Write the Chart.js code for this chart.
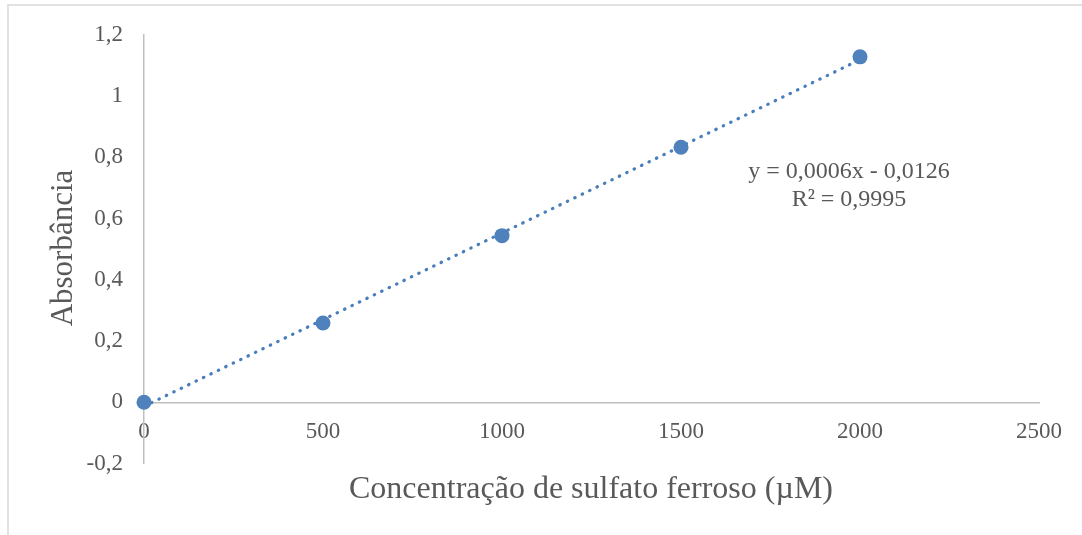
<!DOCTYPE html>
<html>
<head>
<meta charset="utf-8">
<script src="https://cdn.jsdelivr.net/npm/chart.js@4/dist/chart.umd.min.js"></script>
<style>
  html, body { margin: 0; padding: 0; background: #fff; }
  #wrap { position: relative; width: 1082px; height: 535px; }
</style>
</head>
<body>
<div id="wrap"><canvas id="chart"></canvas></div>
<script>
// data
const concentrations = [0, 500, 1000, 1500, 2000];
const absorbances = [0, 0.259, 0.544, 0.833, 1.128];
const xTicks = [0, 500, 1000, 1500, 2000, 2500];
const yTicks = [-0.2, 0, 0.2, 0.4, 0.6, 0.8, 1, 1.2];
const equationLines = ['y = 0,0006x - 0,0126', 'R² = 0,9995'];
const xTitle = 'Concentração de sulfato ferroso (µM)';
const yTitle = 'Absorbância';

const textColor = '#595959';
const axisColor = '#bfbfbf';
const blue = '#4f81bd';
const serif = "'Liberation Serif', 'Times New Roman', serif";

// linear trendline (least squares), drawn between the first and last point
const n = concentrations.length;
const mx = concentrations.reduce((a, b) => a + b, 0) / n;
const my = absorbances.reduce((a, b) => a + b, 0) / n;
let sxy = 0, sxx = 0;
concentrations.forEach((x, i) => { sxy += (x - mx) * (absorbances[i] - my); sxx += (x - mx) ** 2; });
const slope = sxy / sxx;
const intercept = my - slope * mx;
const xFirst = concentrations[0], xLast = concentrations[n - 1];
const trend = [xFirst, xLast].map(x => ({ x, y: slope * x + intercept }));

const fmt = v => String(Number(v.toFixed(1))).replace('.', ',');

// frame, axis titles and the equation label
const decorations = {
    id: 'decorations',
    beforeDraw(chart) {
        const ctx = chart.ctx;
        ctx.save();
        ctx.strokeStyle = '#d9d9d9';
        ctx.lineWidth = 1.5;
        ctx.beginPath();
        ctx.moveTo(8, 540);
        ctx.lineTo(8, 5);
        ctx.lineTo(1090, 5);
        ctx.stroke();
        ctx.restore();
    },
    afterDraw(chart) {
        const ctx = chart.ctx;
        ctx.save();
        ctx.fillStyle = textColor;
        ctx.textAlign = 'center';
        ctx.textBaseline = 'alphabetic';

        ctx.font = '32px ' + serif;
        ctx.fillText(xTitle, 591, 498);

        ctx.save();
        ctx.font = '31px ' + serif;
        ctx.translate(72, 248);
        ctx.rotate(-Math.PI / 2);
        ctx.fillText(yTitle, 0, 0);
        ctx.restore();

        ctx.font = '24px ' + serif;
        equationLines.forEach((line, i) => ctx.fillText(line, 849, 178 + i * 28));
        ctx.restore();
    }
};

new Chart(document.getElementById('chart'), {
    type: 'scatter',
    data: {
        datasets: [
            {
                label: 'Absorbância',
                data: concentrations.map((x, i) => ({ x, y: absorbances[i] })),
                backgroundColor: blue,
                borderColor: blue,
                pointRadius: 7.5,
                borderWidth: 0,
                clip: false,
                order: 0
            },
            {
                label: 'Linear',
                type: 'line',
                data: trend,
                borderColor: '#4a7ebb',
                borderWidth: 3.2,
                borderDash: [0.5, 7.75],
                borderCapStyle: 'round',
                pointRadius: 0,
                fill: false,
                clip: false,
                order: 1
            }
        ]
    },
    plugins: [decorations],
    options: {
        responsive: true,
        maintainAspectRatio: false,
        animation: false,
        events: [],
        layout: { padding: { left: 24, right: 43, top: 34.5, bottom: 71.5 } },
        plugins: { legend: { display: false }, tooltip: { enabled: false } },
        scales: {
            x: {
                type: 'linear',
                position: { y: 0 },
                min: xTicks[0],
                max: xTicks[xTicks.length - 1],
                afterBuildTicks: s => { s.ticks = xTicks.map(value => ({ value })); },
                grid: { display: false, drawTicks: false },
                border: { color: axisColor, width: 1.5 },
                ticks: {
                    color: textColor,
                    font: { family: serif, size: 23 },
                    padding: 16,
                    maxRotation: 0,
                    autoSkip: false,
                    callback: v => String(v)
                }
            },
            y: {
                type: 'linear',
                position: 'left',
                min: yTicks[0],
                max: yTicks[yTicks.length - 1],
                afterBuildTicks: s => { s.ticks = yTicks.map(value => ({ value })); },
                afterFit: s => { s.width = 120; },
                grid: { display: false, drawTicks: false },
                border: { color: axisColor, width: 1.5 },
                ticks: {
                    color: textColor,
                    font: { family: serif, size: 23 },
                    padding: 21,
                    autoSkip: false,
                    callback: v => fmt(v)
                }
            }
        }
    }
});
</script>
</body>
</html>
